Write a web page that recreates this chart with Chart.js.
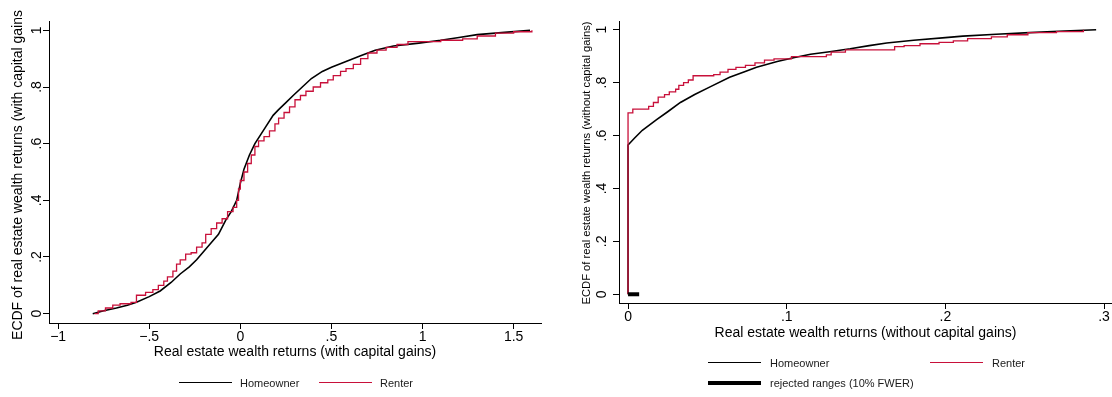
<!DOCTYPE html>
<html>
<head>
<meta charset="utf-8">
<script src="https://cdn.jsdelivr.net/npm/chart.js@4.4.1/dist/chart.umd.min.js"></script>
<style>
  html, body { margin: 0; padding: 0; background: #fff; overflow: hidden; }
  #wrap { position: relative; width: 1112px; height: 397px; font-family: "Liberation Sans", Arial, sans-serif; }
  canvas { position: absolute; top: 0; }
  .key { position: absolute; height: 0; width: 53px; }
  .lbl { position: absolute; font-size: 11px; line-height: 14px; color: #1a1a1a; white-space: nowrap; }
</style>
</head>
<body>
<div id="wrap">
  <canvas id="gains" width="556" height="397" style="left:0"></canvas>
  <canvas id="income" width="556" height="397" style="left:556px"></canvas>

  <div class="key" style="left:179px; top:382px; border-top:1.5px solid #000"></div>
  <div class="lbl" id="lgL0" style="left:240px; top:376px"></div>
  <div class="key" style="left:319px; top:382px; border-top:1.5px solid #c8103a"></div>
  <div class="lbl" id="lgL1" style="left:380px; top:376px"></div>

  <div class="key" style="left:708px; top:362px; border-top:1.5px solid #000"></div>
  <div class="lbl" id="lgR0" style="left:770px; top:356px"></div>
  <div class="key" style="left:930px; top:362px; border-top:1.5px solid #c8103a"></div>
  <div class="lbl" id="lgR1" style="left:992px; top:356px"></div>
  <div class="key" style="left:708px; top:381px; border-top:4px solid #000"></div>
  <div class="lbl" id="lgR2" style="left:770px; top:376px"></div>
</div>

<script>
// ---- series names ----
const seriesNames = ["Homeowner", "Renter", "rejected ranges (10% FWER)"];

// ---- axis text ----
const gainsXTitle = "Real estate wealth returns (with capital gains)";
const gainsYTitle = "ECDF of real estate wealth returns (with capital gains";
const incomeXTitle = "Real estate wealth returns (without capital gains)";
const incomeYTitle = "ECDF of real estate wealth returns (without capital gains)";

// ---- tick values and labels ----
const gainsTickValues = [-1, -0.5, 0, 0.5, 1, 1.5];
const gainsTickLabels = ["\u22121", "\u2212.5", "0", ".5", "1", "1.5"];
const incomeTickValues = [0, 0.1, 0.2, 0.3];
const incomeTickLabels = ["0", ".1", ".2", ".3"];
const ecdfTickValues = [0, 0.2, 0.4, 0.6, 0.8, 1];
const ecdfTickLabels = ["0", ".2", ".4", ".6", ".8", "1"];

// ---- ECDF, returns with capital gains: homeowners ----
const ownerGainsX = [-0.81, -0.75, -0.68, -0.62, -0.57, -0.50, -0.44, -0.38, -0.33, -0.28,
  -0.24, -0.20, -0.16, -0.12, -0.08, -0.05, -0.02, 0.00, 0.02, 0.05,
  0.08, 0.11, 0.14, 0.18, 0.21, 0.25, 0.29, 0.34, 0.39, 0.45,
  0.50, 0.58, 0.66, 0.74, 0.84, 0.98, 1.10, 1.20, 1.30, 1.45, 1.59];
const ownerGainsY = [0.000, 0.010, 0.020, 0.030, 0.040, 0.060, 0.080, 0.110, 0.140, 0.165,
  0.190, 0.220, 0.250, 0.280, 0.330, 0.360, 0.400, 0.460, 0.510, 0.560,
  0.600, 0.630, 0.660, 0.700, 0.720, 0.745, 0.770, 0.800, 0.830, 0.855,
  0.870, 0.890, 0.910, 0.930, 0.945, 0.955, 0.965, 0.975, 0.985, 0.993, 1.000];

// ---- ECDF, returns with capital gains: renters (step function) ----
const renterGainsX = [-0.80, -0.78, -0.74, -0.70, -0.66, -0.60, -0.57, -0.52, -0.48, -0.45,
  -0.42, -0.40, -0.37, -0.35, -0.33, -0.30, -0.27, -0.24, -0.21, -0.19,
  -0.16, -0.13, -0.10, -0.07, -0.04, -0.02, -0.01, 0.00, 0.02, 0.04,
  0.06, 0.08, 0.10, 0.13, 0.16, 0.19, 0.21, 0.24, 0.27, 0.30,
  0.33, 0.36, 0.40, 0.44, 0.48, 0.51, 0.55, 0.58, 0.62, 0.66,
  0.70, 0.75, 0.80, 0.86, 0.92, 1.10, 1.22, 1.30, 1.40, 1.50, 1.60];
const renterGainsY = [0.000, 0.010, 0.020, 0.030, 0.035, 0.040, 0.065, 0.075, 0.085, 0.100,
  0.115, 0.130, 0.150, 0.175, 0.190, 0.210, 0.215, 0.235, 0.250, 0.280,
  0.300, 0.320, 0.335, 0.360, 0.375, 0.400, 0.440, 0.470, 0.500, 0.530,
  0.560, 0.590, 0.610, 0.625, 0.645, 0.670, 0.690, 0.710, 0.730, 0.755,
  0.770, 0.785, 0.800, 0.815, 0.825, 0.840, 0.855, 0.865, 0.880, 0.900,
  0.920, 0.930, 0.940, 0.950, 0.960, 0.965, 0.970, 0.980, 0.990, 0.995, 1.000];

// ---- ECDF, returns without capital gains: homeowners ----
const ownerIncomeX = [0, 0, 0.004, 0.009, 0.018, 0.025, 0.033, 0.042, 0.052, 0.064,
  0.073, 0.081, 0.094, 0.105, 0.115, 0.127, 0.140, 0.152, 0.163, 0.180,
  0.200, 0.211, 0.232, 0.253, 0.275, 0.295];
const ownerIncomeY = [0, 0.564, 0.590, 0.620, 0.660, 0.690, 0.725, 0.755, 0.785, 0.820,
  0.840, 0.858, 0.880, 0.895, 0.907, 0.917, 0.928, 0.940, 0.950, 0.960,
  0.970, 0.976, 0.983, 0.989, 0.995, 1.000];

// ---- ECDF, returns without capital gains: renters (step function) ----
const renterIncomeX = [0, 0, 0.003, 0.013, 0.016, 0.019, 0.023, 0.026, 0.030, 0.032,
  0.035, 0.038, 0.041, 0.054, 0.058, 0.063, 0.068, 0.074, 0.080, 0.086,
  0.092, 0.103, 0.125, 0.128, 0.137, 0.168, 0.174, 0.184, 0.196, 0.205,
  0.214, 0.229, 0.239, 0.252, 0.270, 0.287];
const renterIncomeY = [0, 0.686, 0.700, 0.710, 0.725, 0.745, 0.755, 0.765, 0.775, 0.790,
  0.800, 0.810, 0.826, 0.830, 0.840, 0.850, 0.858, 0.865, 0.875, 0.885,
  0.890, 0.898, 0.905, 0.915, 0.924, 0.936, 0.940, 0.947, 0.952, 0.958,
  0.966, 0.973, 0.981, 0.989, 0.993, 1.000];

// ---- rejected range (10% FWER) ----
const rejectedX = [0, 0.007];
const rejectedY = [0, 0];

// ---------------------------------------------------------------
const FONT = '"Liberation Sans", Arial, sans-serif';
const RED = "#c8103a";

document.getElementById("lgL0").textContent = seriesNames[0];
document.getElementById("lgL1").textContent = seriesNames[1];
document.getElementById("lgR0").textContent = seriesNames[0];
document.getElementById("lgR1").textContent = seriesNames[1];
document.getElementById("lgR2").textContent = seriesNames[2];

const pairs = (xs, ys) => xs.map((x, i) => ({ x: x, y: ys[i] }));

// axis titles drawn beside the plot area
const axisTitles = {
  id: "axisTitles",
  afterDraw(chart, args, o) {
    const { ctx, chartArea: a } = chart;
    ctx.save();
    ctx.fillStyle = "#000";
    ctx.textAlign = "center";
    ctx.textBaseline = "middle";
    ctx.font = o.xSize + "px " + FONT;
    ctx.fillText(o.xText, (a.left + a.right) / 2, a.bottom + o.xOffset);
    ctx.translate(o.yX, o.yCenter);
    ctx.rotate(-Math.PI / 2);
    ctx.font = o.ySize + "px " + FONT;
    ctx.fillText(o.yText, 0, 0);
    ctx.restore();
  }
};

function xScale(min, max, values, labels, height) {
  return {
    type: "linear", min: min, max: max,
    afterBuildTicks: s => { s.ticks = values.map(v => ({ value: v })); },
    afterFit: s => { s.height = height; s.paddingLeft = 0; s.paddingRight = 0; },
    ticks: {
      autoSkip: false, maxRotation: 0, minRotation: 0, padding: 0, color: "#000",
      font: { family: FONT, size: 14 },
      callback: v => labels[values.indexOf(v)]
    },
    grid: { display: true, drawOnChartArea: false, drawTicks: true, tickLength: 6, tickWidth: 1, tickColor: "#000" },
    border: { display: true, color: "#000", width: 1 }
  };
}

function yScale(width, pad) {
  return {
    type: "linear", min: -0.033, max: 1.033,
    afterBuildTicks: s => { s.ticks = ecdfTickValues.map(v => ({ value: v })); },
    afterFit: s => { s.width = width; s.paddingTop = 0; s.paddingBottom = 0; },
    ticks: {
      autoSkip: false, minRotation: 90, maxRotation: 90, crossAlign: "center", padding: pad, color: "#000",
      font: { family: FONT, size: 14 },
      callback: v => ecdfTickLabels[ecdfTickValues.indexOf(v)]
    },
    grid: { display: true, drawOnChartArea: false, drawTicks: true, tickLength: 6, tickWidth: 1, tickColor: "#000" },
    border: { display: true, color: "#000", width: 1 }
  };
}

const common = {
  responsive: false, animation: false, devicePixelRatio: 1,
  elements: { point: { radius: 0, hoverRadius: 0 }, line: { tension: 0, borderCapStyle: "butt" } },
  events: []
};

new Chart(document.getElementById("gains"), {
  type: "line",
  data: {
    datasets: [
      { label: seriesNames[1], data: pairs(renterGainsX, renterGainsY), borderColor: RED, borderWidth: 1.3, stepped: true, order: 0 },
      { label: seriesNames[0], data: pairs(ownerGainsX, ownerGainsY), borderColor: "#000", borderWidth: 1.6, order: 1 }
    ]
  },
  options: Object.assign({}, common, {
    layout: { padding: { left: 0, top: 21, right: 15, bottom: 0 } },
    scales: {
      x: xScale(-1.05, 1.65, gainsTickValues, gainsTickLabels, 74),
      y: yScale(49, 0)
    },
    plugins: {
      legend: { display: false }, tooltip: { enabled: false },
      axisTitles: { xText: gainsXTitle, xSize: 14, xOffset: 29.5, yText: gainsYTitle, ySize: 14, yX: 18, yCenter: 175 }
    }
  }),
  plugins: [axisTitles]
});

new Chart(document.getElementById("income"), {
  type: "line",
  data: {
    datasets: [
      { label: seriesNames[2], data: pairs(rejectedX, rejectedY), borderColor: "#000", borderWidth: 4, order: 0 },
      { label: seriesNames[1], data: pairs(renterIncomeX, renterIncomeY), borderColor: RED, borderWidth: 1.3, stepped: true, order: 1 },
      { label: seriesNames[0], data: pairs(ownerIncomeX, ownerIncomeY), borderColor: "#000", borderWidth: 1.6, order: 2 }
    ]
  },
  options: Object.assign({}, common, {
    layout: { padding: { left: 0, top: 21, right: 0, bottom: 0 } },
    scales: {
      x: xScale(-0.0057, 0.305, incomeTickValues, incomeTickLabels, 94),
      y: yScale(63, 5)
    },
    plugins: {
      legend: { display: false }, tooltip: { enabled: false },
      axisTitles: { xText: incomeXTitle, xSize: 14, xOffset: 30, yText: incomeYTitle, ySize: 11.2, yX: 31, yCenter: 163 }
    }
  }),
  plugins: [axisTitles]
});
</script>
</body>
</html>
